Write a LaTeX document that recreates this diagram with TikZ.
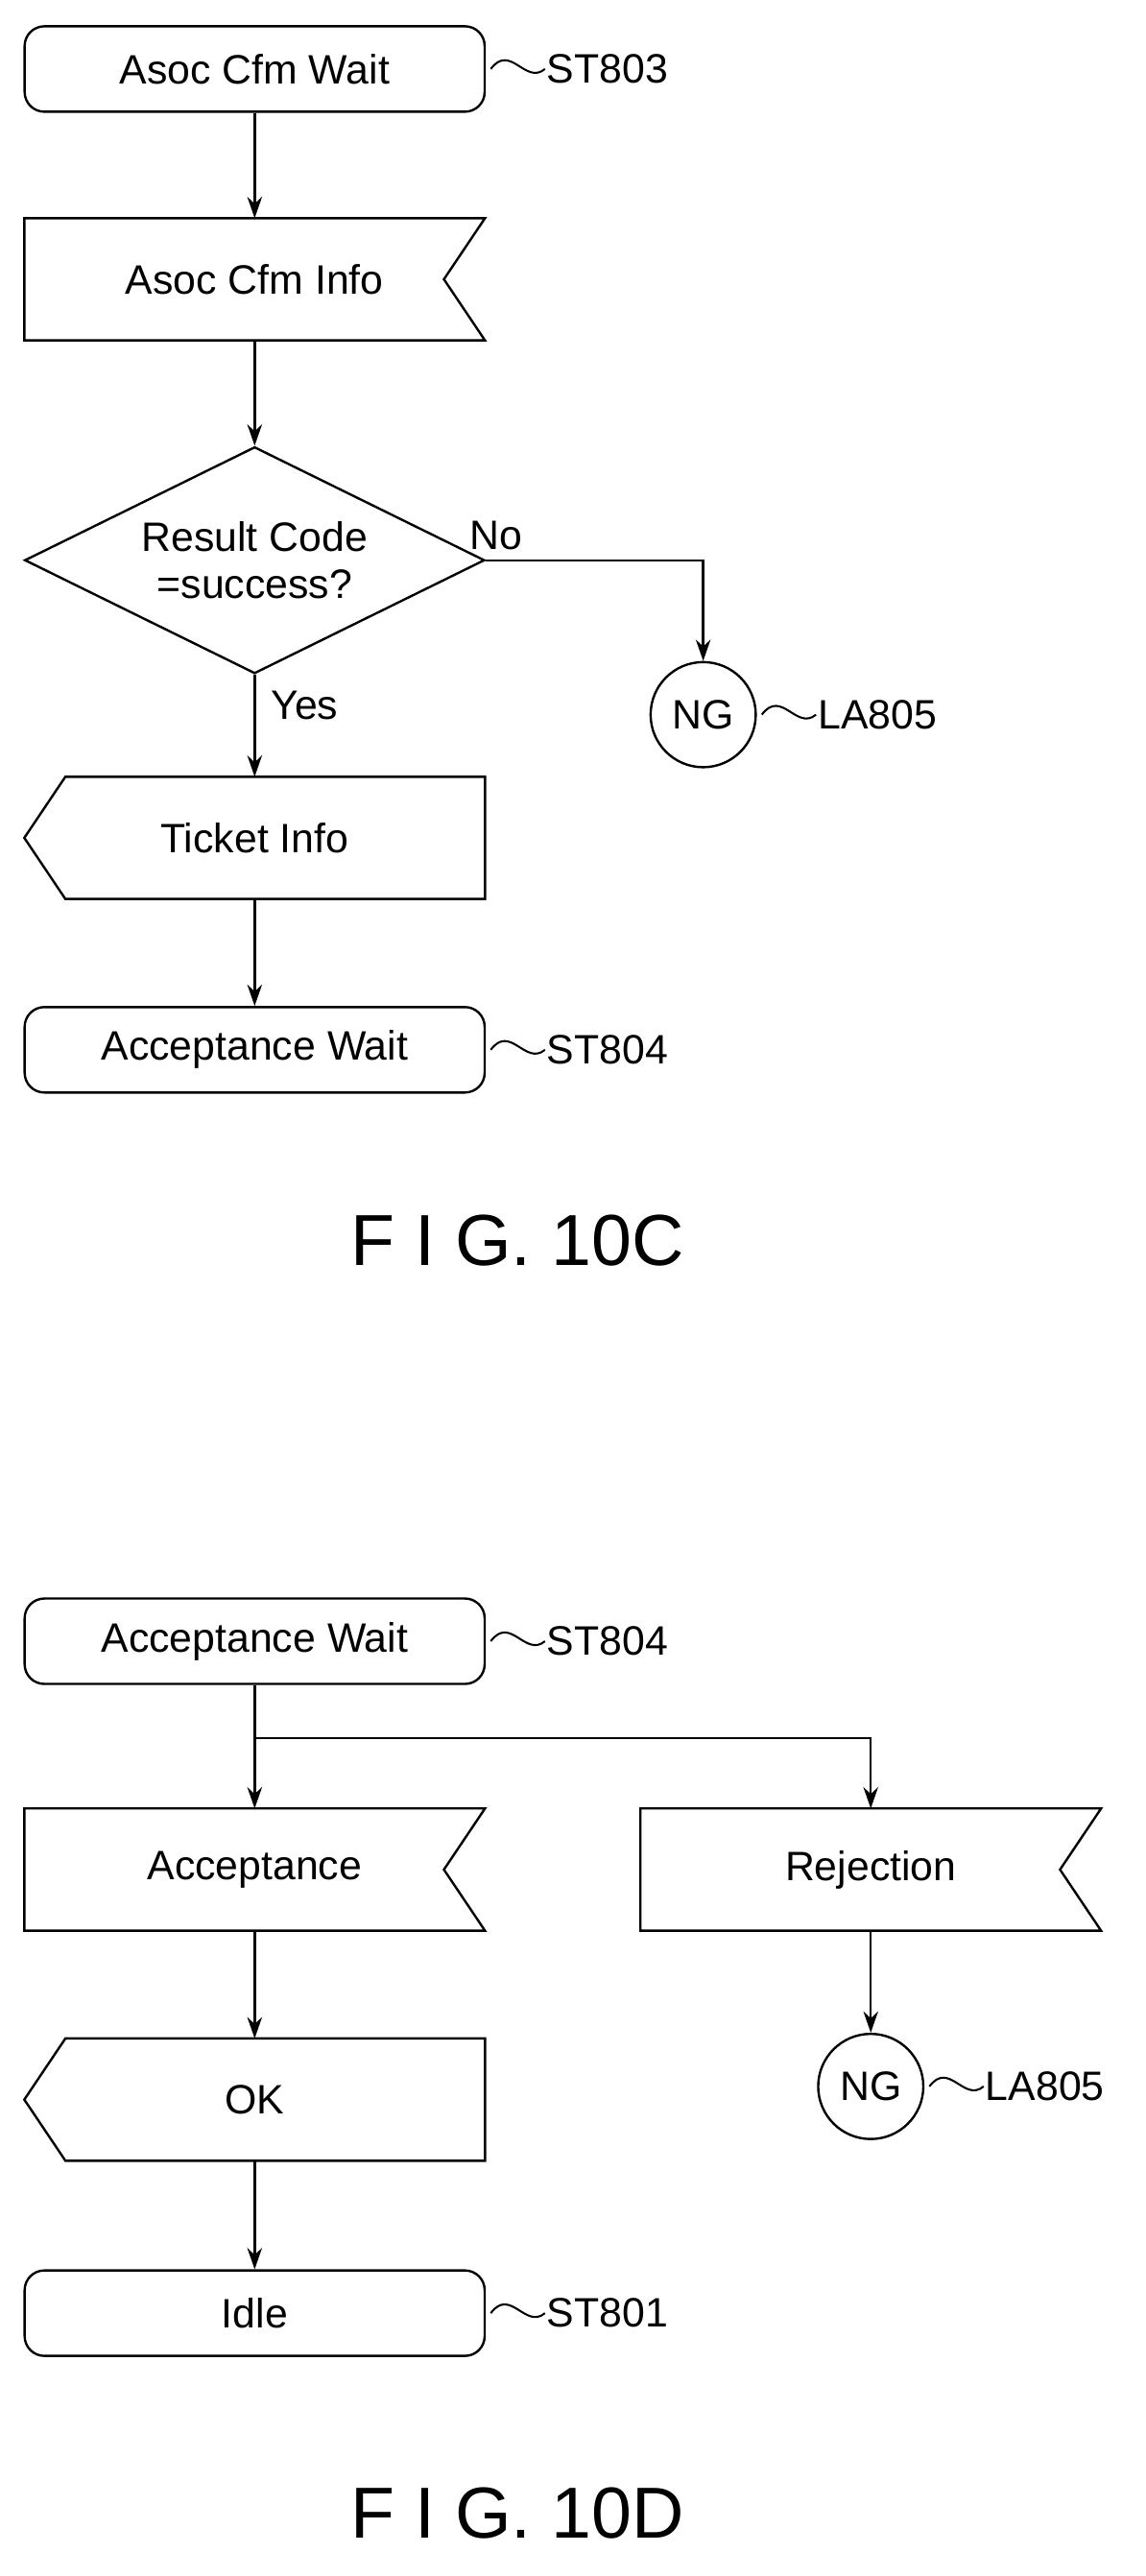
\documentclass[tikz,border=0pt]{standalone}
\usepackage{fontspec}
\setmainfont{Liberation Sans}
\usetikzlibrary{positioning,calc,arrows.meta,shapes.geometric}

\newcommand\recvbox[1]{\draw[line width=1.4pt] (#1.north west) -- (#1.north east) -- ([xshift=-25pt]#1.east) -- (#1.south east) -- (#1.south west) -- cycle;}
\newcommand\sendbox[1]{\draw[line width=1.4pt] ([xshift=25pt]#1.north west) -- (#1.north east) -- (#1.south east) -- ([xshift=25pt]#1.south west) -- (#1.west) -- cycle;}
\newcommand\reflabel[3]{\draw[line width=1.2pt] ([xshift=3pt]#1.east) .. controls +(12,-16) and +(-12,10) .. ([xshift=36pt]#1.east) coordinate (#2);
  \node[anchor=west,inner sep=1pt] at (#2) {#3};}

\tikzset{
  state/.style={draw,line width=1.4pt,rounded corners=12pt,minimum width=280pt,minimum height=52pt,inner sep=0pt},
  signal/.style={minimum width=280pt,minimum height=74pt,inner sep=0pt},
  test/.style={draw,diamond,line width=1.4pt,minimum width=280pt,minimum height=138pt,inner sep=0pt,aspect=2.03,align=center},
  conn/.style={draw,circle,line width=1.4pt,minimum size=64pt,inner sep=0pt},
  flow/.style={line width=1.4pt,-{Stealth[length=13pt,width=9pt]}},
}

\begin{document}
\begin{tikzpicture}[x=1pt,y=-1pt,font=\fontsize{25}{29}\selectfont]
\useasboundingbox (0,0) rectangle (697,1568);

% FIG. 10C
\node[state] (wait1) at (155,42) {Asoc Cfm Wait};
\node[signal] (info) at (155,170) {Asoc Cfm Info};
\recvbox{info}
\node[test] (res) at (155,341) {Result Code\\=success?};
\node[conn] (ng1) at (428,435) {NG};
\node[signal] (ticket) at (155,510) {Ticket Info};
\sendbox{ticket}
\node[state] (wait2) at (155,639) {Acceptance Wait};
\node[font=\fontsize{44}{50}\selectfont] (fig1) at (315,755) {F I G. 10C};

\draw[flow] (wait1) -- (info);
\draw[flow] (info) -- (res);
\draw[flow] (res.east) -- node[above left=2pt and 40pt] {No} (ng1.north |- res.east) -- (ng1);
\draw[flow] (res) -- node[right=6pt,pos=0.3] {Yes} (ticket);
\draw[flow] (ticket) -- (wait2);

\reflabel{wait1}{t1}{ST803}
\reflabel{ng1}{t2}{LA805}
\reflabel{wait2}{t3}{ST804}

% FIG. 10D
\node[state] (wait3) at (155,999) {Acceptance Wait};
\node[signal] (acc) at (155,1138) {Acceptance};
\recvbox{acc}
\node[signal] (rej) at (530,1138) {Rejection};
\recvbox{rej}
\node[conn] (ng2) at (530,1270) {NG};
\node[signal] (ok) at (155,1278) {OK};
\sendbox{ok}
\node[state] (idle) at (155,1408) {Idle};
\node[font=\fontsize{44}{50}\selectfont] (fig2) at (315,1530) {F I G. 10D};

\coordinate (split) at (155,1058);
\draw[line width=1.4pt] (wait3) -- (split);
\draw[flow] (split) -- (acc);
\draw[flow] (split) -| (rej);
\draw[flow] (rej) -- (ng2);
\draw[flow] (acc) -- (ok);
\draw[flow] (ok) -- (idle);

\reflabel{wait3}{t4}{ST804}
\reflabel{ng2}{t5}{LA805}
\reflabel{idle}{t6}{ST801}
\end{tikzpicture}
\end{document}
